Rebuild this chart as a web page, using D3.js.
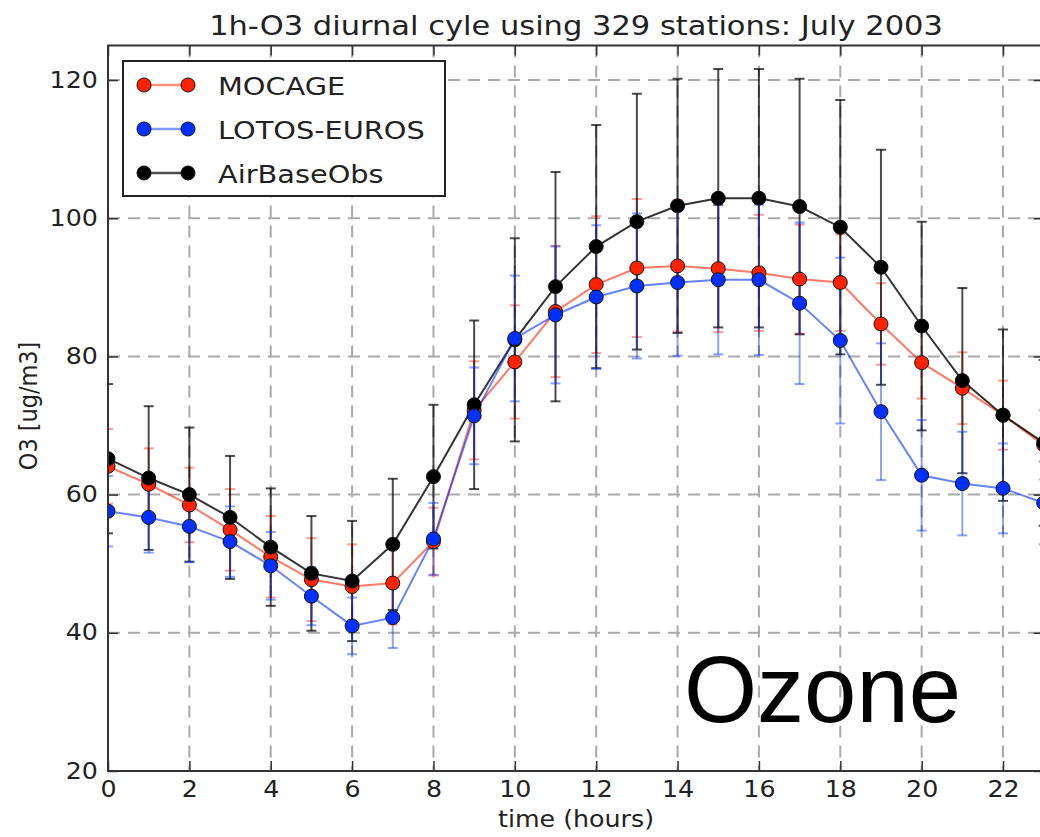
<!DOCTYPE html>
<html>
<head>
<meta charset="utf-8">
<script src="https://cdn.jsdelivr.net/npm/d3@7"></script>
<style>
  body { margin: 0; background: #fff; }
  text { font-family: "DejaVu Sans", sans-serif; fill: #222; }
</style>
</head>
<body>
<div id="chart"></div>
<script>
const WIDTH = 1040;
const HEIGHT = 837;
const SX = 1.13; // the picture is stretched a bit sideways

// data (mean and spread per hour)
const hours = [0, 1, 2, 3, 4, 5, 6, 7, 8, 9, 10, 11, 12, 13, 14, 15, 16, 17, 18, 19, 20, 21, 22, 23];
const mocage = [64.1, 61.5, 58.5, 54.9, 51.0, 47.7, 46.7, 47.2, 53.2, 72.2, 79.2, 86.5, 90.4, 92.8, 93.1, 92.7, 92.1, 91.2, 90.7, 84.7, 79.1, 75.4, 71.5, 67.2];
const mocageSd = [5.4, 5.2, 5.4, 5.9, 5.9, 6.0, 6.1, 6.0, 4.9, 7.1, 8.2, 9.5, 9.9, 10.0, 9.5, 9.2, 8.4, 7.9, 7.0, 5.9, 5.2, 5.2, 5.0, 5.0];
const lotos = [57.6, 56.7, 55.4, 53.2, 49.7, 45.3, 41.0, 42.2, 53.6, 71.4, 82.6, 86.0, 88.6, 90.2, 90.7, 91.1, 91.1, 87.7, 82.3, 72.0, 62.8, 61.6, 60.9, 58.8];
const lotosSd = [5.1, 5.1, 5.2, 5.1, 4.9, 4.2, 4.1, 4.4, 5.2, 7.0, 9.1, 9.9, 10.4, 10.5, 10.6, 10.8, 10.9, 11.7, 12.0, 9.9, 8.0, 7.5, 6.5, 6.0];
const obs = [65.2, 62.4, 60.0, 56.7, 52.4, 48.6, 47.5, 52.8, 62.6, 73.0, 82.4, 90.1, 95.9, 99.5, 101.8, 102.9, 102.9, 101.7, 98.7, 92.9, 84.4, 76.5, 71.5, 67.5];
const obsSd = [10.8, 10.4, 9.7, 8.9, 8.5, 8.3, 8.7, 9.5, 10.4, 12.2, 14.7, 16.6, 17.6, 18.5, 18.4, 18.7, 18.7, 18.5, 18.4, 17.0, 15.1, 13.4, 12.4, 12.0];

const xTicks = [0, 2, 4, 6, 8, 10, 12, 14, 16, 18, 20, 22];
const yTicks = [20, 40, 60, 80, 100, 120];
const legendNames = ["MOCAGE", "LOTOS-EUROS", "AirBaseObs"];

const series = [
    {name: "MOCAGE", mean: mocage, sd: mocageSd, color: "#ff2200", lineOpacity: 0.6, barOpacity: 0.45},
    {name: "AirBaseObs", mean: obs, sd: obsSd, color: "#000000", lineOpacity: 0.8, barOpacity: 0.7},
    {name: "LOTOS-EUROS", mean: lotos, sd: lotosSd, color: "#0030ff", lineOpacity: 0.6, barOpacity: 0.45}
];

const PLOT_LEFT = 108, PLOT_RIGHT = 1043.7, PLOT_TOP = 45.5, PLOT_BOTTOM = 771;

let x = d3.scaleLinear().domain([0, 23]).range([PLOT_LEFT, PLOT_RIGHT]);
let y = d3.scaleLinear().domain([20, 125]).range([PLOT_BOTTOM, PLOT_TOP]);

let svg = d3.select("#chart")
            .append("svg")
            .attr("width", WIDTH)
            .attr("height", HEIGHT);

svg.append("clipPath").attr("id", "plot-clip")
    .append("rect")
    .attr("x", PLOT_LEFT).attr("y", PLOT_TOP)
    .attr("width", PLOT_RIGHT - PLOT_LEFT).attr("height", PLOT_BOTTOM - PLOT_TOP);

// grid
let grid = svg.append("g")
    .attr("stroke", "#aaa")
    .attr("stroke-width", 2)
    .attr("stroke-dasharray", "12,8");
grid.selectAll(".gx").data(xTicks).join("line")
    .attr("x1", d => x(d)).attr("x2", d => x(d))
    .attr("y1", PLOT_TOP).attr("y2", PLOT_BOTTOM);
grid.selectAll(".gy").data(yTicks).join("line")
    .attr("x1", PLOT_LEFT).attr("x2", PLOT_RIGHT)
    .attr("y1", d => y(d)).attr("y2", d => y(d));

let plot = svg.append("g").attr("clip-path", "url(#plot-clip)");

// error bars first
series.forEach(s => {
    let g = plot.append("g")
        .attr("stroke", s.color)
        .attr("stroke-opacity", s.barOpacity)
        .attr("stroke-width", 2);
    hours.forEach((h, i) => {
        let lo = y(s.mean[i] - s.sd[i]);
        let hi = y(s.mean[i] + s.sd[i]);
        g.append("line").attr("x1", x(h)).attr("x2", x(h)).attr("y1", lo).attr("y2", hi);
        g.append("line").attr("x1", x(h) - 5).attr("x2", x(h) + 5).attr("y1", lo).attr("y2", lo);
        g.append("line").attr("x1", x(h) - 5).attr("x2", x(h) + 5).attr("y1", hi).attr("y2", hi);
    });
});

let line = d3.line().x((d, i) => x(hours[i])).y(d => y(d));

series.forEach(s => {
    plot.append("path")
        .attr("d", line(s.mean))
        .attr("fill", "none")
        .attr("stroke", s.color)
        .attr("stroke-opacity", s.lineOpacity)
        .attr("stroke-width", 2);
});

series.forEach(s => {
    plot.append("g").selectAll("circle").data(s.mean).join("circle")
        .attr("cx", (d, i) => x(hours[i]))
        .attr("cy", d => y(d))
        .attr("r", 7)
        .attr("fill", s.color)
        .attr("stroke", "#111")
        .attr("stroke-width", 1);
});

// ticks on all four sides, pointing in
svg.append("g")
    .attr("transform", `translate(0,${PLOT_BOTTOM})`)
    .call(d3.axisBottom(x).tickValues(xTicks).tickSizeInner(-10).tickSizeOuter(0).tickPadding(10));
svg.append("g")
    .attr("transform", `translate(${PLOT_LEFT},0)`)
    .call(d3.axisLeft(y).tickValues(yTicks).tickSizeInner(-10).tickSizeOuter(0).tickPadding(9));
svg.append("g")
    .attr("transform", `translate(0,${PLOT_TOP})`)
    .call(d3.axisTop(x).tickValues(xTicks).tickSizeInner(-10).tickSizeOuter(0).tickFormat(""));
svg.append("g")
    .attr("transform", `translate(${PLOT_RIGHT},0)`)
    .call(d3.axisRight(y).tickValues(yTicks).tickSizeInner(-10).tickSizeOuter(0).tickFormat(""));

svg.selectAll(".domain").remove();
svg.selectAll(".tick line").attr("stroke", "#333").attr("stroke-width", 1.5);
svg.selectAll(".tick text")
    .attr("font-size", 22.4)
    .attr("font-family", "DejaVu Sans")
    .attr("fill", "#222")
    .attr("transform", `scale(${SX},1)`);

// spines
svg.append("rect")
    .attr("x", PLOT_LEFT).attr("y", PLOT_TOP)
    .attr("width", PLOT_RIGHT - PLOT_LEFT).attr("height", PLOT_BOTTOM - PLOT_TOP)
    .attr("fill", "none")
    .attr("stroke", "#333")
    .attr("stroke-width", 2);

// title and axis labels
svg.append("text")
    .attr("transform", `translate(576,35) scale(${SX},1)`)
    .attr("text-anchor", "middle")
    .attr("font-size", 27)
    .text("1h-O3 diurnal cyle using 329 stations: July 2003");

svg.append("text")
    .attr("transform", `translate(576,827) scale(${SX},1)`)
    .attr("text-anchor", "middle")
    .attr("font-size", 22.4)
    .text("time (hours)");

svg.append("text")
    .attr("transform", `translate(37,406) rotate(-90) scale(1,${SX})`)
    .attr("text-anchor", "middle")
    .attr("font-size", 22.4)
    .text("O3 [ug/m3]");

// legend
let legendColors = {"MOCAGE": "#ff2200", "LOTOS-EUROS": "#0030ff", "AirBaseObs": "#000000"};
let legendLineOpacity = {"MOCAGE": 0.5, "LOTOS-EUROS": 0.5, "AirBaseObs": 0.7};
let legend = svg.append("g");
legend.append("rect")
    .attr("x", 123).attr("y", 61)
    .attr("width", 322).attr("height", 135)
    .attr("fill", "#fff")
    .attr("stroke", "#222")
    .attr("stroke-width", 2);

legendNames.forEach((name, i) => {
    let ly = 85 + i * 44;
    let c = legendColors[name];
    legend.append("line")
        .attr("x1", 144).attr("x2", 188).attr("y1", ly).attr("y2", ly)
        .attr("stroke", c).attr("stroke-opacity", legendLineOpacity[name]).attr("stroke-width", 2.5);
    [144, 188].forEach(cx => {
        legend.append("circle")
            .attr("cx", cx).attr("cy", ly).attr("r", 7)
            .attr("fill", c).attr("stroke", "#111").attr("stroke-width", 1);
    });
    legend.append("text")
        .attr("transform", `translate(218,${ly + 9.5}) scale(${SX},1)`)
        .attr("font-size", 25.5)
        .text(name);
});

// big label
svg.append("text")
    .attr("x", 684)
    .attr("y", 722)
    .style("font-family", "'Liberation Sans', Arial, sans-serif")
    .style("font-size", "94px")
    .style("fill", "#000")
    .text("Ozone");
</script>
</body>
</html>
